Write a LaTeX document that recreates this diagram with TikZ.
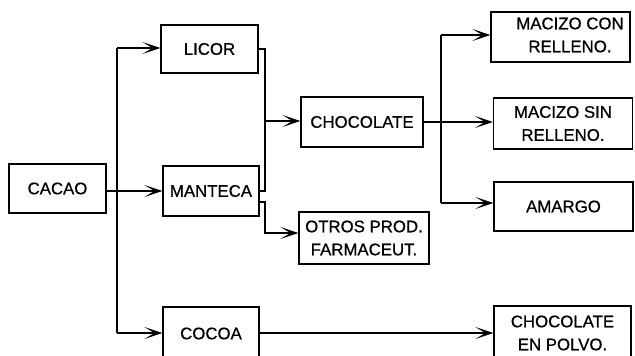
\documentclass[tikz,border=0pt]{standalone}
\usepackage{fontspec}
\setmainfont{Liberation Sans}[UprightFeatures={FakeBold=0.7}]
\usetikzlibrary{arrows.meta}
\begin{document}
\begin{tikzpicture}[x=1pt,y=-1pt,
  box/.style={draw,line width=1.2pt,inner sep=0pt,align=center,
    font=\fontsize{16.8}{23}\selectfont},
  link/.style={line width=1.2pt},
  arr/.style={line width=1.2pt,-{Stealth[length=18pt,width=12pt,inset=10pt]}}]
\useasboundingbox (0,0) rectangle (635,356);
\clip (0,0) rectangle (635,356);

% products
\node[box,minimum width=97pt,minimum height=49pt] (cacao) at (57.5,188.5) {CACAO};
\node[box,minimum width=97pt,minimum height=48pt] (licor) at (209.5,49) {LICOR};
\node[box,minimum width=96pt,minimum height=50pt] (manteca) at (211,191) {MANTECA};
\node[box,minimum width=96pt,minimum height=53pt] (cocoa) at (211,333.5) {COCOA};
\node[box,minimum width=122pt,minimum height=50pt] (choc) at (362,122) {CHOCOLATE};
\node[box,minimum width=130pt,minimum height=52pt] (otros) at (364,238) {OTROS PROD.\\FARMACEUT.};
\node[box,minimum width=139pt,minimum height=50pt] (mcon) at (560.5,37) {};
\node[font=\fontsize{16.8}{23}\selectfont,align=center] (mcont) at (570,35) {MACIZO CON\\RELLENO.};
\node[box,minimum width=139pt,minimum height=51pt] (msin) at (563,123.5) {MACIZO SIN\\RELLENO.};
\node[box,minimum width=139pt,minimum height=49pt] (amargo) at (563.5,206.5) {AMARGO};
\node[box,minimum width=137pt,minimum height=54pt] (polvo) at (562.5,333) {CHOCOLATE\\EN POLVO.};

% junction points
\coordinate (j1) at (117,48);
\coordinate (j2) at (117,333);
\coordinate (jl) at (265,121);
\coordinate (jo) at (265,233);
\coordinate (jc1) at (441,35);
\coordinate (jc2) at (441,203);

% cacao splits three ways
\draw[link] (j1) -- (j2);
\draw[arr] (cacao.east |- manteca.west) -- (manteca.west);
\draw[arr] (j1) -- (licor.west |- j1);
\draw[arr] (j2) -- (cocoa.west |- j2);

% licor + manteca give chocolate
\draw[link] (licor.east) -| (jl) |- (manteca.east);
\draw[arr] (jl) -- (choc.west |- jl);
\draw[arr] ([yshift=-11pt]manteca.east) -| (jo) -- (otros.west |- jo);

% kinds of chocolate
\draw[link] (jc1) -- (jc2);
\draw[arr] (choc.east) -- (msin.west |- choc.east);
\draw[arr] (jc1) -- (mcon.west |- jc1);
\draw[arr] (jc2) -- (amargo.west |- jc2);

% cocoa to powdered chocolate
\draw[arr] (cocoa.east |- j2) -- (polvo.west |- j2);
\end{tikzpicture}
\end{document}
